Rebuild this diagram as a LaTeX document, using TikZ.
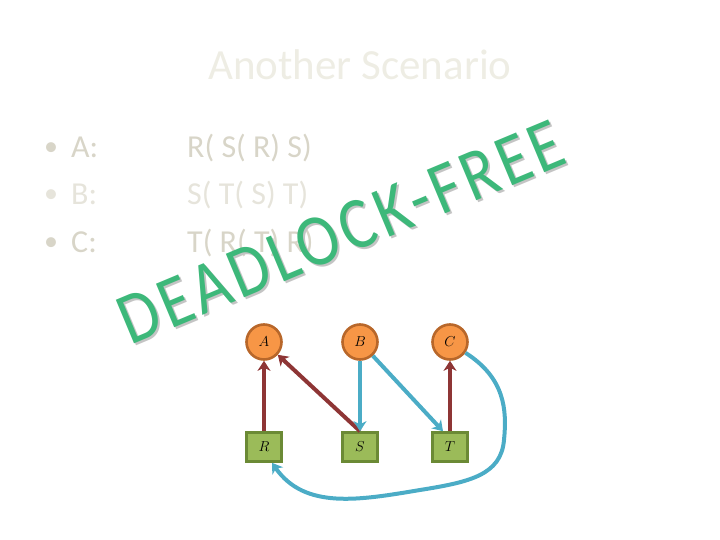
\documentclass[tikz,border=0pt]{standalone}
\usepackage{fontspec}
\setmainfont{Carlito}
\newfontfamily\wafont[LetterSpace=6.5]{Carlito}
\usetikzlibrary{arrows.meta}
\definecolor{titlec}{HTML}{EEEDE4}
\definecolor{bodyc}{HTML}{D8D5C8}
\definecolor{bodyl}{HTML}{E6E4DB}
\definecolor{wgreen}{HTML}{3DB87A}
\definecolor{wshadow}{HTML}{C4C4C4}
\definecolor{procfill}{HTML}{F79646}
\definecolor{procdraw}{HTML}{B8672A}
\definecolor{resfill}{HTML}{9BBB59}
\definecolor{resdraw}{HTML}{6B8A35}
\definecolor{holdc}{HTML}{8E3535}
\definecolor{waitc}{HTML}{4BACC6}
\begin{document}
\begin{tikzpicture}[x=1pt,y=-1pt,
  proc/.style={circle,fill=procfill,draw=procdraw,line width=2.6pt,minimum size=35pt,inner sep=0pt,font=\fontsize{15}{15}\selectfont},
  res/.style={rectangle,fill=resfill,draw=resdraw,line width=2.6pt,minimum width=35pt,minimum height=29pt,inner sep=0pt,font=\fontsize{15}{15}\selectfont},
  hold/.style={draw=holdc,line width=4pt,-{Stealth[length=10pt,width=13pt,inset=3pt]}},
  wait/.style={draw=waitc,line width=4pt,-{Stealth[length=10pt,width=13pt,inset=3pt]}},
  bodytext/.style={anchor=base west,inner sep=0pt,font=\fontsize{32}{32}\selectfont},
  wordart/.style={anchor=base,inner sep=0pt,rotate=22.7,font=\wafont\fontsize{64}{64}\selectfont}]
\useasboundingbox (0,0) rectangle (720,540);
\node[inner sep=0pt,text=titlec,font=\fontsize{43}{43}\selectfont,anchor=base] (title) at (360,80) {Another Scenario};
\node[bodytext,text=bodyc,font=\fontsize{28}{28}\selectfont] (ba) at (44,156) {•};
\node[bodytext,text=bodyl,font=\fontsize{28}{28}\selectfont] (bb) at (44,203) {•};
\node[bodytext,text=bodyc,font=\fontsize{28}{28}\selectfont] (bc) at (44,250) {•};
\node[bodytext,text=bodyc] (la) at (71,158) {A:};
\node[bodytext,text=bodyl] (lb) at (71,205) {B:};
\node[bodytext,text=bodyc] (lc) at (71,252) {C:};
\node[bodytext,text=bodyc] (sa) at (187,158) {R( S( R) S)};
\node[bodytext,text=bodyl] (sb) at (187,205) {S( T( S) T)};
\node[bodytext,text=bodyc] (sc) at (187,252) {T( R( T) R)};
\node[wordart,text=wshadow] (wshad) at (352,256) {\scalebox{1}[1.15]{DEADLOCK-FREE}};
\node[wordart,text=wgreen] (word) at (350,254) {\scalebox{1}[1.15]{DEADLOCK-FREE}};
\node[proc] (A) at (264,342) {$A$};
\node[proc] (B) at (360,342) {$B$};
\node[proc] (C) at (450,342) {$C$};
\node[res] (R) at (264,447) {$R$};
\node[res] (S) at (360,447) {$S$};
\node[res] (T) at (450,447) {$T$};
\draw[hold] (R) -- (A);
\draw[hold] (S.north) -- (A);
\draw[wait] (B) -- (S);
\draw[wait] (B) -- ([xshift=-7pt]T.north);
\draw[hold] (T) -- (C);
\draw[wait] (C.-35) .. controls (505,378) and (507,410) .. (504,440)
   .. controls (501,475) and (470,482) .. (420,490)
   .. controls (360,500) and (305,510) .. ([xshift=8pt]R.south);
\end{tikzpicture}
\end{document}
